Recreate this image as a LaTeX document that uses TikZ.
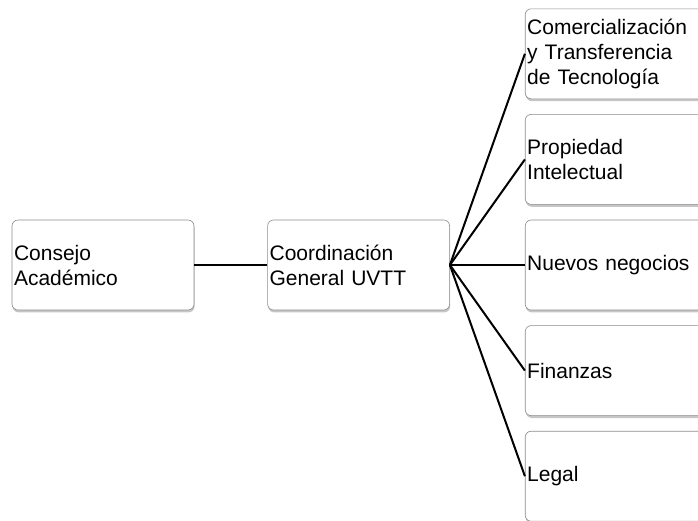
\documentclass[tikz,border=0pt]{standalone}
\usepackage{fontspec}
\setmainfont{Liberation Sans}
\usepackage{tikz}
\usetikzlibrary{shapes,arrows,positioning,calc,shadows}

\begin{document}
\begin{tikzpicture}[
    x=1pt, y=1pt,
    node distance=15pt,
    unit/.style={rectangle, rounded corners=6pt, draw=black!45, line width=0.6pt, fill=white,
        drop shadow={shadow xshift=0.6pt, shadow yshift=-2.4pt, opacity=0.45},
        inner xsep=2pt, text width=178pt, align=left, minimum height=90pt,
        font=\fontsize{21}{25}\selectfont},
    area/.style={unit, text width=194pt},
    link/.style={-, line width=2pt}
]
    \useasboundingbox (0,0) rectangle (698,-520);

    \node[unit] (consejo) at (103,-265) {Consejo\\Académico};
    \node[unit, right=73pt of consejo] (coord) {Coordinación\\General UVTT};

    \node[area, right=75pt of coord] (negocios) {Nuevos negocios};
    \node[area, above=of negocios] (propiedad) {Propiedad\\Intelectual};
    \node[area, above=of propiedad] (comercial) {Comercialización\\y Transferencia\\de Tecnología};
    \node[area, below=of negocios] (finanzas) {Finanzas};
    \node[area, below=of finanzas] (legal) {Legal};

    \draw[link] (consejo) -- (coord);
    \foreach \n in {comercial,propiedad,negocios,finanzas,legal}
        \draw[link] (coord.east) -- (\n.west);
\end{tikzpicture}
\end{document}
